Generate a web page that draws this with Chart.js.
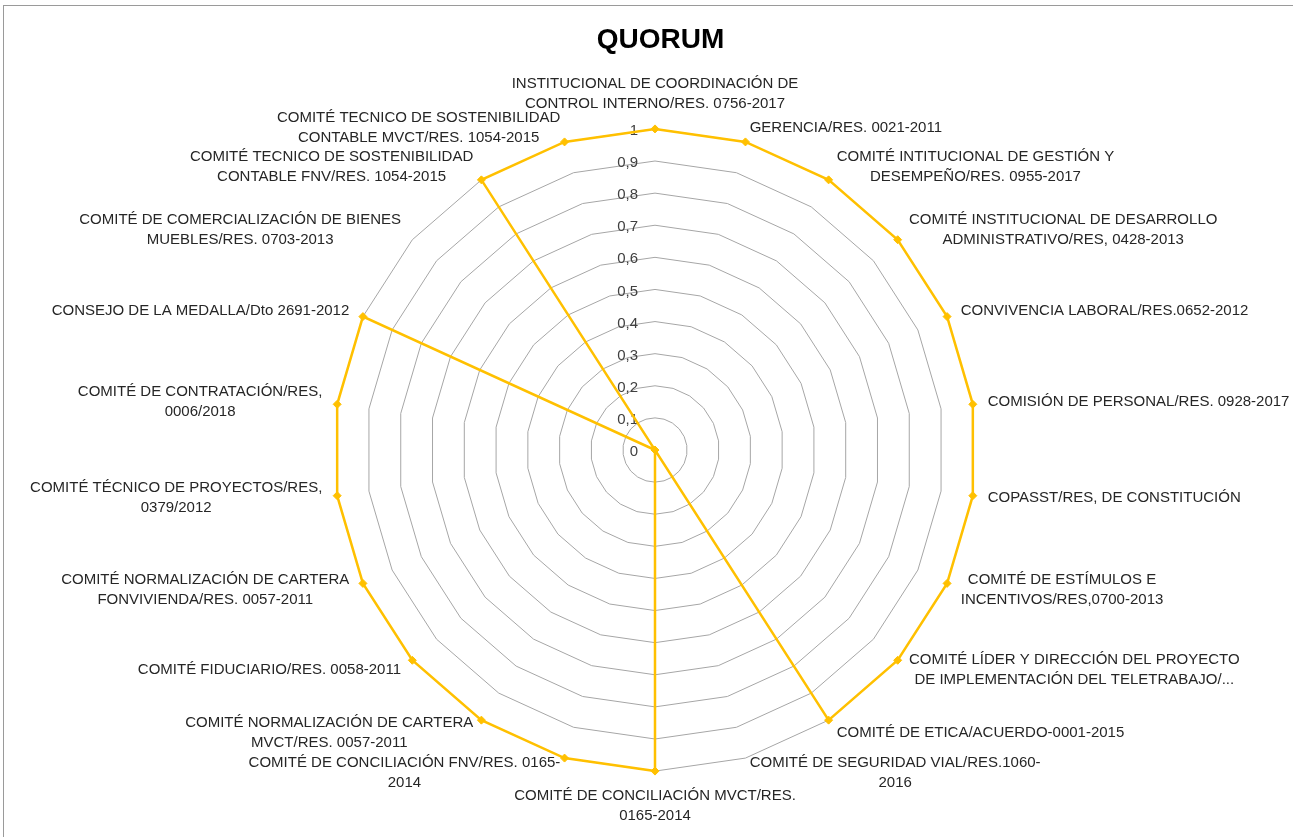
<!DOCTYPE html>
<html>
<head>
<meta charset="utf-8">
<script src="https://cdn.jsdelivr.net/npm/chart.js@4/dist/chart.umd.min.js"></script>
<style>
  html, body { margin: 0; padding: 0; background: #ffffff; overflow: hidden; width: 1293px; height: 837px; }
  #frame { position: absolute; left: 3px; top: 5px; width: 1400px; height: 900px; border: 1px solid #9a9a9a; box-sizing: border-box; }
  #c { position: absolute; left: 0; top: 0; }
</style>
</head>
<body>
<div id="frame"></div>
<canvas id="c" width="1299" height="837"></canvas>
<script>
const categories = [
  ["INSTITUCIONAL DE COORDINACIÓN DE", "CONTROL INTERNO/RES. 0756-2017"],
  "GERENCIA/RES. 0021-2011",
  ["COMITÉ INTITUCIONAL DE GESTIÓN Y", "DESEMPEÑO/RES. 0955-2017"],
  ["COMITÉ INSTITUCIONAL DE DESARROLLO", "ADMINISTRATIVO/RES, 0428-2013"],
  "CONVIVENCIA LABORAL/RES.0652-2012",
  "COMISIÓN DE PERSONAL/RES. 0928-2017",
  "COPASST/RES, DE CONSTITUCIÓN",
  ["COMITÉ DE ESTÍMULOS E", "INCENTIVOS/RES,0700-2013"],
  ["COMITÉ LÍDER Y DIRECCIÓN DEL PROYECTO", "DE IMPLEMENTACIÓN DEL TELETRABAJO/..."],
  "COMITÉ DE ETICA/ACUERDO-0001-2015",
  ["COMITÉ DE SEGURIDAD VIAL/RES.1060-", "2016"],
  ["COMITÉ DE CONCILIACIÓN MVCT/RES.", "0165-2014"],
  ["COMITÉ DE CONCILIACIÓN FNV/RES. 0165-", "2014"],
  ["COMITÉ NORMALIZACIÓN DE CARTERA", "MVCT/RES. 0057-2011"],
  "COMITÉ FIDUCIARIO/RES. 0058-2011",
  ["COMITÉ NORMALIZACIÓN DE CARTERA", "FONVIVIENDA/RES. 0057-2011"],
  ["COMITÉ TÉCNICO DE PROYECTOS/RES,", "0379/2012"],
  ["COMITÉ DE CONTRATACIÓN/RES,", "0006/2018"],
  "CONSEJO DE LA MEDALLA/Dto 2691-2012",
  ["COMITÉ DE COMERCIALIZACIÓN DE BIENES", "MUEBLES/RES. 0703-2013"],
  ["COMITÉ TECNICO DE SOSTENIBILIDAD", "CONTABLE FNV/RES. 1054-2015"],
  ["COMITÉ TECNICO DE SOSTENIBILIDAD", "CONTABLE MVCT/RES. 1054-2015"]
];
const quorumValues = [1, 1, 1, 1, 1, 1, 1, 1, 1, 1, 0, 1, 1, 1, 1, 1, 1, 1, 1, 0, 1, 1];
const tickLabels = ["0", "0,1", "0,2", "0,3", "0,4", "0,5", "0,6", "0,7", "0,8", "0,9", "1"];
const chartTitle = "QUORUM";

const FONT = '"Liberation Sans", Arial, sans-serif';

const leftTicks = {
  id: 'leftTicks',
  beforeDatasetsDraw(chart) {
    const s = chart.scales.r;
    const ctx = chart.ctx;
    ctx.save();
    ctx.font = '15px ' + FONT;
    ctx.fillStyle = '#404040';
    ctx.textAlign = 'right';
    ctx.textBaseline = 'middle';
    s.ticks.forEach((t) => {
      const d = s.getDistanceFromCenterForValue(t.value);
      ctx.fillText(t.label, s.xCenter - 17, s.yCenter - d + 2);
    });
    ctx.restore();
  }
};

// Center side labels vertically on their anchor and center the lines within each label block
function centerLabels(scale) {
  const items = scale._pointLabelItems;
  if (!items) return;
  items.forEach((it) => {
    if (it._adj) return;
    const h = it.bottom - it.top;
    const w = it.right - it.left;
    if (it.textAlign !== 'center') {
      const shift = (it.y + h / 2 < scale.yCenter) ? h / 2 : -h / 2;
      it.y += shift; it.top += shift; it.bottom += shift;
      it.x = it.left + w / 2;
      it.textAlign = 'center';
    }
    it._adj = true;
  });
}

new Chart(document.getElementById('c'), {
  type: 'radar',
  data: {
    labels: categories,
    datasets: [{
      label: chartTitle,
      data: quorumValues,
      borderColor: '#FFC000',
      backgroundColor: '#FFC000',
      borderWidth: 2.5,
      fill: false,
      pointStyle: 'rectRot',
      pointRadius: 4,
      pointBackgroundColor: '#FFC000',
      pointBorderColor: '#FFC000',
      pointBorderWidth: 1,
      tension: 0
    }]
  },
  options: {
    responsive: false,
    animation: false,
    layout: { padding: { top: 0, bottom: 11, left: 22, right: 0 } },
    plugins: {
      legend: { display: false },
      tooltip: { enabled: false },
      title: {
        display: true,
        text: chartTitle,
        color: '#000000',
        font: { family: FONT, size: 28, weight: 'bold', lineHeight: 1.2 },
        padding: { top: 23, bottom: 17.4 }
      }
    },
    scales: {
      r: {
        min: 0,
        max: 1,
        beginAtZero: true,
        afterFit: centerLabels,
        angleLines: { display: false },
        grid: { color: '#a6a6a6', lineWidth: 1, circular: false },
        ticks: {
          display: false,
          stepSize: 0.1,
          callback: (v, i) => tickLabels[i]
        },
        pointLabels: {
          display: true,
          color: '#262626',
          padding: 15,
          font: { family: FONT, size: 15, lineHeight: 1.33 }
        }
      }
    }
  },
  plugins: [leftTicks]
});
</script>
</body>
</html>
